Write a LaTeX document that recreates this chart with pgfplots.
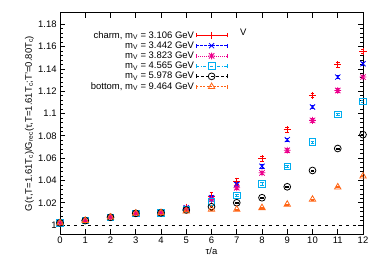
\documentclass[border=0pt]{standalone}
\usepackage{pgfplots}
\pgfplotsset{compat=1.18}
\usepackage{fontspec}
\setmainfont{Liberation Sans}
\definecolor{gporange}{RGB}{255,100,20}
\pgfdeclareplotmark{gpstar}{%
\pgfpathmoveto{\pgfqpoint{\pgfplotmarksize}{0pt}}\pgfpathlineto{\pgfqpoint{-\pgfplotmarksize}{0pt}}%
\pgfpathmoveto{\pgfqpoint{0pt}{\pgfplotmarksize}}\pgfpathlineto{\pgfqpoint{0pt}{-\pgfplotmarksize}}%
\pgfpathmoveto{\pgfqpoint{.8\pgfplotmarksize}{.8\pgfplotmarksize}}\pgfpathlineto{\pgfqpoint{-.8\pgfplotmarksize}{-.8\pgfplotmarksize}}%
\pgfpathmoveto{\pgfqpoint{-.8\pgfplotmarksize}{.8\pgfplotmarksize}}\pgfpathlineto{\pgfqpoint{.8\pgfplotmarksize}{-.8\pgfplotmarksize}}%
\pgfusepathqstroke}
\pgfplotsset{legimg/.style n args={4}{legend image code/.code={%
\draw[#1,line width=0.7pt,#2] (0cm,0cm)--(1.08cm,0cm);
\draw[#1,line width=0.7pt,solid] (0cm,-2pt)--(0cm,2pt) (1.08cm,-2pt)--(1.08cm,2pt);
\path[#1,line width=0.8pt,solid] plot[mark=#3,mark options={solid,#4}] coordinates {(0.54cm,0cm)};}}}
\begin{document}
\fontsize{9.5}{11}\selectfont
\begin{tikzpicture}
\begin{axis}[
  name=ax, at={(0,0)}, anchor=south west,
  scale only axis, width=303bp, height=221bp,
  xmin=0, xmax=12, ymin=0.992, ymax=1.19,
  xtick={0,...,12},
  ytick={1,1.02,...,1.181},
  minor y tick num=4,
  tick align=inside,
  major tick length=5bp, minor tick length=3bp,
  axis line style={line width=1pt},
  every tick/.style={black, line width=0.6pt},
  /pgf/number format/assume math mode=true,
  yticklabel style={/pgf/number format/precision=2},
  tick label style={font=\fontsize{9.5}{11}\selectfont},
  label style={font=\fontsize{9.5}{11}\selectfont},
  xlabel={τ/a},
  ylabel={G(τ,T=1.61T\textsubscript{c})/G\textsubscript{rec}(τ,T=1.61T\textsubscript{c};T'=0.80T\textsubscript{c})},
  xlabel style={yshift=3bp},
  ylabel style={yshift=-2bp},
  legend style={at={(rel axis cs:0.556,0.932)}, anchor=north east, draw=none, fill=none,
    legend plot pos=right, row sep=-1.8pt, font=\fontsize{9.5}{11}\selectfont, inner sep=1pt},
  legend cell align=right,
  error bars/y dir=both, error bars/y explicit,
  error bars/error mark options={rotate=90, mark size=2pt, line width=0.6pt},
  error bars/error bar style={line width=0.6pt, solid},
]
\addplot[red, only marks, mark=+, mark size=3.6pt, line width=0.8pt, legimg={red}{solid}{+}{mark size=3.6pt}]
 coordinates {(0,1.002)+-(0,0.0005) (1,1.004)+-(0,0.0005) (2,1.007)+-(0,0.0005) (3,1.0105)+-(0,0.0005) (4,1.011)+-(0,0.0005) (5,1.016)+-(0,0.001) (6,1.026)+-(0,0.003) (7,1.0393)+-(0,0.003) (8,1.0593)+-(0,0.002) (9,1.0855)+-(0,0.002) (10,1.1162)+-(0,0.002) (11,1.1436)+-(0,0.002) (12,1.1555)+-(0,0.002)};
\addlegendentry{charm, m\textsubscript{V} = 3.106 GeV}
\addplot[blue, only marks, mark=x, mark size=3.6pt, line width=0.8pt, legimg={blue}{dash pattern=on 2.5pt off 1.5pt}{x}{mark size=3.6pt}]
 coordinates {(0,1.002)+-(0,0.0005) (1,1.004)+-(0,0.0005) (2,1.007)+-(0,0.0005) (3,1.0105)+-(0,0.0005) (4,1.011)+-(0,0.0005) (5,1.0155)+-(0,0.001) (6,1.0245)+-(0,0.002) (7,1.0364)+-(0,0.002) (8,1.0527)+-(0,0.0015) (9,1.0766)+-(0,0.0015) (10,1.1058)+-(0,0.0015) (11,1.1326)+-(0,0.0015) (12,1.1445)+-(0,0.0015)};
\addlegendentry{m\textsubscript{V} = 3.442 GeV}
\addplot[magenta, only marks, mark=gpstar, mark size=3.4pt, line width=0.8pt, legimg={magenta}{dash pattern=on 1pt off 1pt}{gpstar}{mark size=3.4pt}]
 coordinates {(0,1.002)+-(0,0.0005) (1,1.004)+-(0,0.0005) (2,1.007)+-(0,0.0005) (3,1.0105)+-(0,0.0005) (4,1.011)+-(0,0.0005) (5,1.015)+-(0,0.001) (6,1.023)+-(0,0.0015) (7,1.0334)+-(0,0.0015) (8,1.0468)+-(0,0.0015) (9,1.067)+-(0,0.0015) (10,1.0938)+-(0,0.0015) (11,1.1206)+-(0,0.0015) (12,1.1326)+-(0,0.0015)};
\addlegendentry{m\textsubscript{V} = 3.823 GeV}
\addplot[cyan, only marks, mark=square, mark size=3.3pt, line width=0.8pt, legimg={cyan}{dash pattern=on 3pt off 1.5pt on 1pt off 1.5pt}{square}{mark size=3.3pt}]
 coordinates {(0,1.002)+-(0,0.0005) (1,1.004)+-(0,0.0005) (2,1.007)+-(0,0.0005) (3,1.0105)+-(0,0.0005) (4,1.011)+-(0,0.0005) (5,1.014)+-(0,0.0005) (6,1.0206)+-(0,0.001) (7,1.0265)+-(0,0.001) (8,1.037)+-(0,0.001) (9,1.0527)+-(0,0.001) (10,1.0745)+-(0,0.001) (11,1.099)+-(0,0.001) (12,1.1108)+-(0,0.001)};
\addlegendentry{m\textsubscript{V} = 4.565 GeV}
\addplot[black, only marks, mark=o, mark size=3.4pt, line width=0.8pt, legimg={black}{dash pattern=on 2.5pt off 2.5pt}{o}{mark size=3.4pt}]
 coordinates {(0,1.002)+-(0,0.0005) (1,1.004)+-(0,0.0005) (2,1.007)+-(0,0.0005) (3,1.0105)+-(0,0.0005) (4,1.011)+-(0,0.0005) (5,1.0135)+-(0,0.0005) (6,1.0164)+-(0,0.0005) (7,1.020)+-(0,0.0005) (8,1.0245)+-(0,0.0005) (9,1.0343)+-(0,0.0005) (10,1.0489)+-(0,0.0005) (11,1.0686)+-(0,0.0005) (12,1.081)+-(0,0.0005)};
\addlegendentry{m\textsubscript{V} = 5.978 GeV}
\addplot[gporange, only marks, mark=triangle, mark size=3.7pt, line width=0.8pt, legimg={gporange}{dash pattern=on 2pt off 1.5pt}{triangle}{mark size=3.7pt}]
 coordinates {(0,1.002)+-(0,0.0005) (1,1.004)+-(0,0.0005) (2,1.007)+-(0,0.0005) (3,1.0105)+-(0,0.0005) (4,1.011)+-(0,0.0005) (5,1.0125)+-(0,0.0005) (6,1.014)+-(0,0.0005) (7,1.014)+-(0,0.0005) (8,1.0155)+-(0,0.0005) (9,1.0185)+-(0,0.0005) (10,1.023)+-(0,0.0005) (11,1.034)+-(0,0.0005) (12,1.0438)+-(0,0.0005)};
\addlegendentry{bottom, m\textsubscript{V} = 9.464 GeV}
\addplot[black, line width=0.6pt, dash pattern=on 3pt off 4pt, forget plot, no marks, error bars/y dir=none] coordinates {(0,1) (12,1)};
\node at (axis cs:7.26,1.1725) {V};
\end{axis}
\pgfresetboundingbox
\path (-60bp,-33bp) rectangle (321bp,234bp);
\end{tikzpicture}
\end{document}
